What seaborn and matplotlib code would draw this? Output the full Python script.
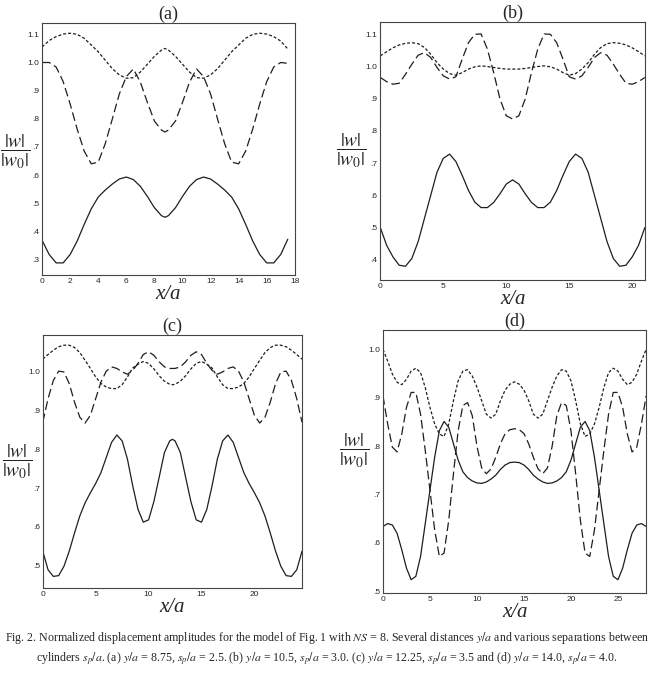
import numpy as np
import pandas as pd
import matplotlib.pyplot as plt
import seaborn as sns

sns.set_style("white")
plt.rcParams["font.family"] = ["Liberation Serif", "DejaVu Serif"]
plt.rcParams["mathtext.fontset"] = "stix"

# ---- panel (a): y/a = 8.75, sp/a = 2.5
x_a = [0, 0.5, 1, 1.5, 2, 2.5, 3, 3.5, 4, 4.5, 5, 5.5, 6, 6.5, 7, 7.5, 8, 8.5, 8.75,
       9, 9.5, 10, 10.5, 11, 11.5, 12, 12.5, 13, 13.5, 14, 14.5, 15, 15.5, 16, 16.5, 17, 17.5]
solid_a = [0.368, 0.318, 0.288, 0.288, 0.318, 0.366, 0.425, 0.480, 0.522, 0.547, 0.568, 0.586, 0.593,
           0.584, 0.560, 0.524, 0.484, 0.456, 0.450,
           0.456, 0.484, 0.524, 0.560, 0.584, 0.593, 0.586, 0.568, 0.547, 0.522, 0.480, 0.425,
           0.366, 0.318, 0.288, 0.288, 0.318, 0.372]
long_a = [1.000, 1.000, 0.984, 0.932, 0.852, 0.763, 0.685, 0.640, 0.646, 0.712, 0.799, 0.888, 0.950,
          0.977, 0.930, 0.858, 0.792, 0.760, 0.753,
          0.760, 0.792, 0.858, 0.930, 0.977, 0.950, 0.888, 0.799, 0.712, 0.646, 0.640, 0.685,
          0.763, 0.852, 0.932, 0.984, 1.000, 0.997]
short_a = [1.055, 1.078, 1.092, 1.101, 1.104, 1.100, 1.086, 1.062, 1.038, 1.008, 0.978, 0.956, 0.944,
           0.946, 0.966, 0.994, 1.022, 1.044, 1.050,
           1.044, 1.022, 0.994, 0.966, 0.946, 0.944, 0.956, 0.978, 1.008, 1.038, 1.062, 1.086,
           1.100, 1.104, 1.101, 1.092, 1.076, 1.048]

# ---- panel (b): y/a = 10.5, sp/a = 3.0
x_b = np.arange(0, 21.5, 0.5)
solid_b = [0.500, 0.445, 0.409, 0.383, 0.380, 0.404, 0.456, 0.528, 0.600, 0.672, 0.715, 0.728,
           0.705, 0.662, 0.615, 0.579, 0.562, 0.562, 0.578, 0.605, 0.635, 0.648,
           0.635, 0.605, 0.578, 0.562, 0.562, 0.579, 0.615, 0.662, 0.705, 0.728, 0.715,
           0.672, 0.600, 0.528, 0.456, 0.404, 0.380, 0.383, 0.409, 0.445, 0.500]
long_b = [0.966, 0.953, 0.945, 0.948, 0.976, 1.007, 1.035, 1.043, 1.028, 0.997, 0.971, 0.961,
          0.968, 1.023, 1.074, 1.100, 1.101, 1.054, 0.981, 0.899, 0.847, 0.837,
          0.847, 0.899, 0.981, 1.054, 1.101, 1.100, 1.074, 1.023, 0.968, 0.961, 0.971,
          0.997, 1.028, 1.043, 1.035, 1.007, 0.976, 0.948, 0.945, 0.953, 0.966]
short_b = [1.033, 1.046, 1.058, 1.067, 1.072, 1.074, 1.071, 1.059, 1.038, 1.012, 0.992, 0.978,
           0.973, 0.981, 0.992, 0.999, 1.002, 1.000, 0.997, 0.994, 0.992, 0.992,
           0.992, 0.994, 0.997, 1.000, 1.002, 0.999, 0.992, 0.981, 0.973, 0.978, 0.992,
           1.012, 1.038, 1.059, 1.071, 1.074, 1.072, 1.067, 1.058, 1.046, 1.033]

# ---- panel (c): y/a = 12.25, sp/a = 3.5
x_c = [0, 0.5, 1, 1.5, 2, 2.5, 3, 3.5, 4, 4.5, 5, 5.5, 6, 6.5, 7, 7.5, 8, 8.5, 9, 9.5, 10, 10.5,
       11, 11.5, 12, 12.25, 12.5, 13, 13.5, 14, 14.5, 15, 15.5, 16, 16.5, 17, 17.5, 18, 18.5, 19,
       19.5, 20, 20.5, 21, 21.5, 22, 22.5, 23, 23.5, 24, 24.5]
solid_c = [0.537, 0.489, 0.472, 0.474, 0.498, 0.537, 0.584, 0.628, 0.662, 0.688, 0.712, 0.740,
           0.779, 0.818, 0.837, 0.822, 0.775, 0.706, 0.645, 0.612, 0.618, 0.665, 0.728, 0.792,
           0.822, 0.826,
           0.822, 0.792, 0.728, 0.665, 0.618, 0.612, 0.645, 0.706, 0.775, 0.822, 0.837, 0.818,
           0.779, 0.740, 0.712, 0.688, 0.662, 0.628, 0.584, 0.537, 0.498, 0.474, 0.472, 0.489, 0.537]
long_c = [0.870, 0.931, 0.978, 1.002, 1.000, 0.970, 0.922, 0.883, 0.868, 0.888, 0.931, 0.974,
          1.002, 1.013, 1.009, 1.000, 0.994, 1.004, 1.022, 1.045, 1.052, 1.043, 1.026, 1.013,
          1.009, 1.009,
          1.009, 1.013, 1.026, 1.043, 1.052, 1.045, 1.022, 1.004, 0.994, 1.000, 1.009, 1.013,
          1.002, 0.974, 0.931, 0.888, 0.868, 0.883, 0.922, 0.970, 1.000, 1.002, 0.978, 0.931, 0.870]
short_c = [1.033, 1.045, 1.056, 1.065, 1.069, 1.069, 1.063, 1.050, 1.030, 1.009, 0.987, 0.970,
           0.961, 0.957, 0.957, 0.967, 0.987, 1.010, 1.020, 1.027, 1.022, 1.008, 0.990, 0.976,
           0.968, 0.967,
           0.968, 0.976, 0.990, 1.008, 1.022, 1.027, 1.020, 1.010, 0.987, 0.967, 0.957, 0.957,
           0.961, 0.970, 0.987, 1.009, 1.030, 1.050, 1.063, 1.069, 1.069, 1.065, 1.056, 1.045, 1.033]

# ---- panel (d): y/a = 14.0, sp/a = 4.0
x_d = np.arange(0, 28.5, 0.5)
solid_d = [0.634, 0.640, 0.637, 0.620, 0.586, 0.548, 0.524, 0.531, 0.572, 0.640, 0.709, 0.777,
           0.832, 0.851, 0.839, 0.805, 0.771, 0.747, 0.735, 0.728, 0.724, 0.723, 0.726, 0.732,
           0.740, 0.752, 0.761, 0.766, 0.767,
           0.766, 0.761, 0.752, 0.740, 0.732, 0.726, 0.723, 0.724, 0.728, 0.735, 0.747, 0.771,
           0.805, 0.839, 0.851, 0.832, 0.777, 0.709, 0.640, 0.572, 0.531, 0.524, 0.548, 0.586,
           0.620, 0.637, 0.640, 0.634]
long_d = [0.904, 0.846, 0.798, 0.788, 0.825, 0.880, 0.911, 0.911, 0.866, 0.791, 0.709, 0.627,
          0.572, 0.579, 0.647, 0.743, 0.832, 0.884, 0.890, 0.863, 0.800, 0.755, 0.743, 0.753,
          0.777, 0.805, 0.826, 0.834, 0.836,
          0.834, 0.826, 0.805, 0.777, 0.753, 0.743, 0.755, 0.800, 0.863, 0.890, 0.884, 0.832,
          0.743, 0.647, 0.579, 0.572, 0.627, 0.709, 0.791, 0.866, 0.911, 0.911, 0.880, 0.825,
          0.788, 0.798, 0.846, 0.904]
short_d = [1.000, 0.976, 0.949, 0.932, 0.927, 0.938, 0.955, 0.961, 0.952, 0.921, 0.880, 0.846,
           0.825, 0.820, 0.846, 0.894, 0.935, 0.955, 0.958, 0.945, 0.922, 0.894, 0.866, 0.858,
           0.866, 0.894, 0.916, 0.928, 0.933,
           0.928, 0.916, 0.894, 0.866, 0.858, 0.866, 0.894, 0.922, 0.945, 0.958, 0.955, 0.935,
           0.894, 0.846, 0.820, 0.825, 0.846, 0.880, 0.921, 0.952, 0.961, 0.955, 0.938, 0.927,
           0.932, 0.949, 0.976, 1.000]

titles = ["(a)", "(b)", "(c)", "(d)"]
xticks_a = [0, 2, 4, 6, 8, 10, 12, 14, 16, 18]
xticks_b = [0, 5, 10, 15, 20]
xticks_c = [0, 5, 10, 15, 20]
xticks_d = [0, 5, 10, 15, 20, 25]
yticks_a = [0.3, 0.4, 0.5, 0.6, 0.7, 0.8, 0.9, 1.0, 1.1]
yticks_b = [0.4, 0.5, 0.6, 0.7, 0.8, 0.9, 1.0, 1.1]
yticks_c = [0.5, 0.6, 0.7, 0.8, 0.9, 1.0]
yticks_d = [0.5, 0.6, 0.7, 0.8, 0.9, 1.0]

caption = ("Fig. 2. Normalized displacement amplitudes for the model of Fig. 1 with $NS$ = 8. "
           "Several distances $y/a$ and various separations between\n"
           "cylinders $s_p/a$. (a) $y/a$ = 8.75, $s_p/a$ = 2.5. (b) $y/a$ = 10.5, $s_p/a$ = 3.0. "
           "(c) $y/a$ = 12.25, $s_p/a$ = 3.5 and (d) $y/a$ = 14.0, $s_p/a$ = 4.0.")

panels = [
    (x_a, solid_a, long_a, short_a, xticks_a, yticks_a, (0, 18), (0.245, 1.14),
     [0.064, 0.595, 0.384, 0.371], (-0.105, 0.49)),
    (x_b, solid_b, long_b, short_b, xticks_b, yticks_b, (0, 21), (0.338, 1.139),
     [0.578, 0.588, 0.402, 0.380], (-0.11, 0.50)),
    (x_c, solid_c, long_c, short_c, xticks_c, yticks_c, (0, 24.5), (0.442, 1.096),
     [0.065, 0.134, 0.394, 0.373], (-0.10, 0.50)),
    (x_d, solid_d, long_d, short_d, xticks_d, yticks_d, (0, 28), (0.497, 1.04),
     [0.582, 0.127, 0.400, 0.387], (-0.108, 0.54)),
]

line_dashes = {"solid": "", "long": (7, 3.2), "short": (2.4, 1.6)}


def tick_text(v):
    s = f"{v:.1f}"
    return s[1:] if s.startswith("0") else s


fig = plt.figure(figsize=(6.58, 6.79), dpi=100)

for title, (x, s, l, sh, xt, yt, xl, yl, pos, lab) in zip(titles, panels):
    ax = fig.add_axes(pos)
    df = pd.DataFrame({"x": x, "solid": s, "long": l, "short": sh})
    df = df.melt(id_vars="x", var_name="curve", value_name="w")
    sns.lineplot(data=df, x="x", y="w", style="curve", dashes=line_dashes,
                 color="#1e1e1e", linewidth=0.9, legend=False, ax=ax, estimator=None)
    ax.set_xlim(*xl)
    ax.set_ylim(*yl)
    ax.set_xticks(xt)
    ax.set_xticklabels([str(v) for v in xt], family="Liberation Sans", fontsize=6)
    ax.set_yticks(yt)
    ax.set_yticklabels([tick_text(v) for v in yt], family="Liberation Sans", fontsize=6)
    ax.tick_params(direction="in", length=2, width=0.6, pad=2)
    for sp in ax.spines.values():
        sp.set_linewidth(0.8)
        sp.set_color("#444444")
    ax.set_title(title, fontsize=13, pad=3)
    ax.set_xlabel("x/a", fontsize=15, style="italic", labelpad=0)
    ax.set_ylabel("")
    ax.text(lab[0], lab[1], r"$\dfrac{|w|}{|w_0|}$", transform=ax.transAxes,
            fontsize=14, ha="center", va="center", color="#222222")

fig.text(0.497, 0.045, caption, ha="center", va="center", fontsize=8.6,
         multialignment="center", linespacing=1.35)

fig.savefig("out.png", dpi=100)
